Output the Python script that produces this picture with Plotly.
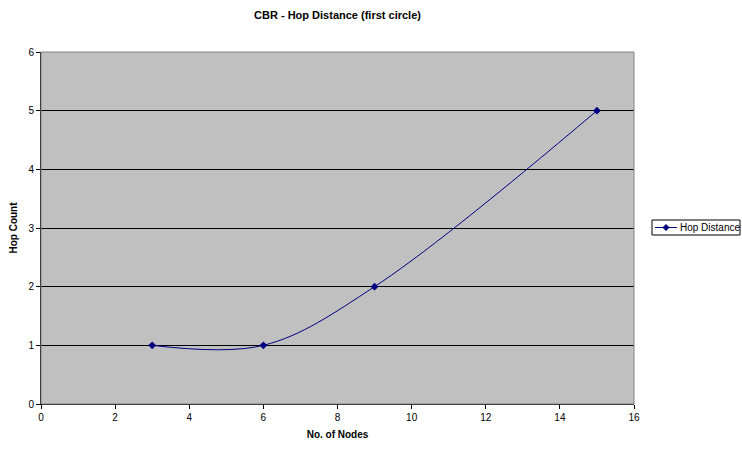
import plotly.graph_objects as go

nodes = [3, 6, 9, 15]
hop_count = [1, 1, 2, 5]
series_name = "Hop Distance"
x_ticks = [0, 2, 4, 6, 8, 10, 12, 14, 16]
y_ticks = [0, 1, 2, 3, 4, 5, 6]

W, H = 742, 449
navy = "#000080"

fig = go.Figure()
fig.add_trace(go.Scatter(
    x=nodes, y=hop_count, name=series_name, mode="lines+markers",
    line=dict(color=navy, width=1, shape="spline", smoothing=1.0),
    marker=dict(symbol="diamond", size=6, color=navy),
    showlegend=False,
))

fig.update_layout(
    width=W, height=H,
    margin=dict(l=41, r=108, t=52, b=45),
    paper_bgcolor="white", plot_bgcolor="#C0C0C0",
    font=dict(family="Liberation Sans, Arial", size=10, color="black"),
    title=dict(text="<b>CBR - Hop Distance (first circle)</b>", x=(41 + 634) / 2 / W,
               xanchor="center", y=1 - 15 / H, yanchor="middle", font=dict(size=11)),
    xaxis=dict(range=[0, 16], tickvals=x_ticks, showgrid=False, zeroline=False,
               showline=True, linecolor="black", linewidth=1, ticks="outside",
               ticklen=4, tickcolor="black",
               title=dict(text="<b>No. of Nodes</b>", font=dict(size=10), standoff=8)),
    yaxis=dict(range=[0, 6], tickvals=y_ticks, showgrid=True, gridcolor="black",
               gridwidth=1, zeroline=False, showline=True, linecolor="black",
               linewidth=1, ticks="outside", ticklen=4, tickcolor="black",
               title=dict(text="<b>Hop Count</b>", font=dict(size=10), standoff=8)),
)
fig.add_shape(type="rect", xref="paper", yref="paper", x0=0, x1=1, y0=0, y1=1,
              line=dict(color="#808080", width=1), fillcolor="rgba(0,0,0,0)", layer="above")

# Manual legend (in pixel-based paper coordinates)
pl, pr, pt, pb = 41, 634, 52, 404
def px(x):
    return (x - pl) / (pr - pl)
def py(y):
    return (pb - y) / (pb - pt)

fig.add_shape(type="rect", xref="paper", yref="paper", x0=px(652), x1=px(740),
              y0=py(235), y1=py(220), line=dict(color="black", width=1),
              fillcolor="white")
fig.add_shape(type="line", xref="paper", yref="paper", x0=px(655), x1=px(677),
              y0=py(227.5), y1=py(227.5), line=dict(color=navy, width=1))
fig.add_shape(type="path", xref="paper", yref="paper",
              path=f"M {px(663)},{py(227.5)} L {px(666)},{py(224.5)} L {px(669)},{py(227.5)} L {px(666)},{py(230.5)} Z",
              line=dict(color=navy, width=1), fillcolor=navy)
fig.add_annotation(xref="paper", yref="paper", x=px(678), y=py(227.5), text=series_name,
                   showarrow=False, xanchor="left", yanchor="middle",
                   font=dict(size=10, color="black"))

fig.write_html("out.html")
